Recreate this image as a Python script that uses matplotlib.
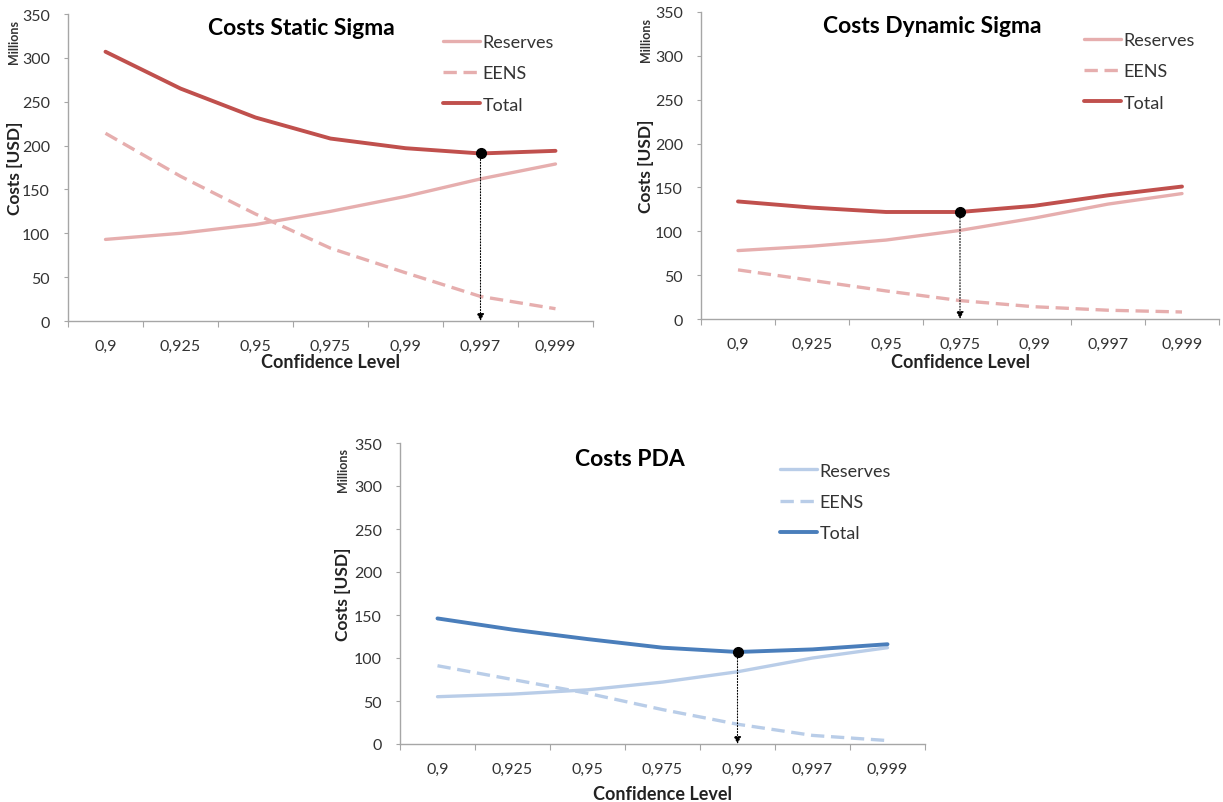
import matplotlib
matplotlib.use("Agg")
import matplotlib.pyplot as plt
import numpy as np

plt.rcParams['font.family'] = ['Lato', 'DejaVu Sans']

categories = ["0,9", "0,925", "0,95", "0,975", "0,99", "0,997", "0,999"]
y_ticks = [0, 50, 100, 150, 200, 250, 300, 350]

static_reserves = [93, 100, 110, 125, 142, 162, 179]
static_eens = [214, 165, 122, 83, 55, 28, 14]
static_total = [307, 265, 232, 208, 197, 191, 194]
static_opt = 5

dynamic_reserves = [78, 83, 90, 101, 115, 131, 143]
dynamic_eens = [56, 44, 32, 21, 14, 10, 8]
dynamic_total = [134, 127, 122, 122, 129, 141, 151]
dynamic_opt = 3

pda_reserves = [55, 58, 63, 72, 84, 100, 112]
pda_eens = [91, 75, 59, 40, 23, 10, 4]
pda_total = [146, 133, 122, 112, 107, 110, 116]
pda_opt = 4

titles = ["Costs Static Sigma", "Costs Dynamic Sigma", "Costs PDA"]

RED = "#C0504D"
RED_L = "#E6AEAE"
BLUE = "#4A7EBB"
BLUE_L = "#B9CDE8"
SPINE = "#A6A6A6"

fig = plt.figure(figsize=(12.23, 8.03), dpi=100)

W, H = 1223, 803
def rect(l, r, top, bot):
    return [l / W, 1 - bot / H, (r - l) / W, (bot - top) / H]

specs = [
    dict(rect=rect(68, 593, 15, 322), res=static_reserves, eens=static_eens, tot=static_total,
         opt=static_opt, dark=RED, light=RED_L, title=titles[0], tx=0.445, ty=0.955,
         leg=(0.714, 0.935), mill=(14, 42), ylab=(15, 168), xlab_y=363),
    dict(rect=rect(701, 1219, 13, 320), res=dynamic_reserves, eens=dynamic_eens, tot=dynamic_total,
         opt=dynamic_opt, dark=RED, light=RED_L, title=titles[1], tx=0.446, ty=0.955,
         leg=(0.739, 0.935), mill=(646, 40), ylab=(646, 166), xlab_y=363),
    dict(rect=rect(400, 925, 444, 745), res=pda_reserves, eens=pda_eens, tot=pda_total,
         opt=pda_opt, dark=BLUE, light=BLUE_L, title=titles[2], tx=0.438, ty=0.95,
         leg=(0.724, 0.935), mill=(343, 470), ylab=(343, 594), xlab_y=795),
]

x = np.arange(len(categories))

for s in specs:
    ax = fig.add_axes(s["rect"])
    ax.plot(x, s["res"], color=s["light"], lw=2.4, label="Reserves", solid_capstyle="round")
    ax.plot(x, s["eens"], color=s["light"], lw=2.4, ls=(0, (4, 2)), label="EENS")
    ax.plot(x, s["tot"], color=s["dark"], lw=2.8, label="Total", solid_capstyle="round")
    i = s["opt"]
    ax.annotate("", xy=(x[i], 0), xytext=(x[i], s["tot"][i]),
                arrowprops=dict(arrowstyle="-|>", color="black", lw=0.8, ls=":",
                                shrinkA=0, shrinkB=0, mutation_scale=11))
    ax.plot([x[i]], [s["tot"][i]], "o", color="black", ms=7, zorder=5)

    ax.set_xlim(-0.5, len(categories) - 0.5)
    ax.set_ylim(0, 350)
    ax.set_yticks(y_ticks)
    ax.set_yticklabels([str(v) for v in y_ticks], fontsize=11.5, color="#333333")
    ax.set_xticks(np.arange(len(categories) + 1) - 0.5)
    ax.set_xticklabels([])
    ax.set_xticks(x, minor=True)
    ax.set_xticklabels(categories, minor=True, fontsize=11.5, color="#333333")
    ax.tick_params(axis="x", which="major", length=4, color=SPINE, direction="out")
    ax.tick_params(axis="x", which="minor", length=0, pad=13)
    ax.tick_params(axis="y", length=3, color=SPINE, direction="out", pad=10)
    for sp in ["top", "right"]:
        ax.spines[sp].set_visible(False)
    for sp in ["left", "bottom"]:
        ax.spines[sp].set_color(SPINE)
        ax.spines[sp].set_linewidth(1.0)

    ax.text(s["tx"], s["ty"], s["title"], transform=ax.transAxes, ha="center", va="center",
            fontsize=16.5, fontweight="bold", color="black")

    leg = ax.legend(loc="upper left", bbox_to_anchor=s["leg"], frameon=False, fontsize=13,
                    handlelength=2.05, handletextpad=0.15, labelspacing=0.85,
                    borderpad=0, borderaxespad=0)
    for t in leg.get_texts():
        t.set_color("#333333")

    fig.text(s["mill"][0] / W, 1 - s["mill"][1] / H, "Millions", rotation=90,
             ha="center", va="center", fontsize=9, fontweight="bold", color="#333333")
    fig.text(s["ylab"][0] / W, 1 - s["ylab"][1] / H, "Costs [USD]", rotation=90,
             ha="center", va="center", fontsize=12.5, fontweight="bold", color="#222222")
    l, b, w, h = s["rect"]
    fig.text(l + w / 2, 1 - s["xlab_y"] / H, "Confidence Level", ha="center", va="center",
             fontsize=13, fontweight="bold", color="#222222")

fig.savefig("out.png", dpi=100)
